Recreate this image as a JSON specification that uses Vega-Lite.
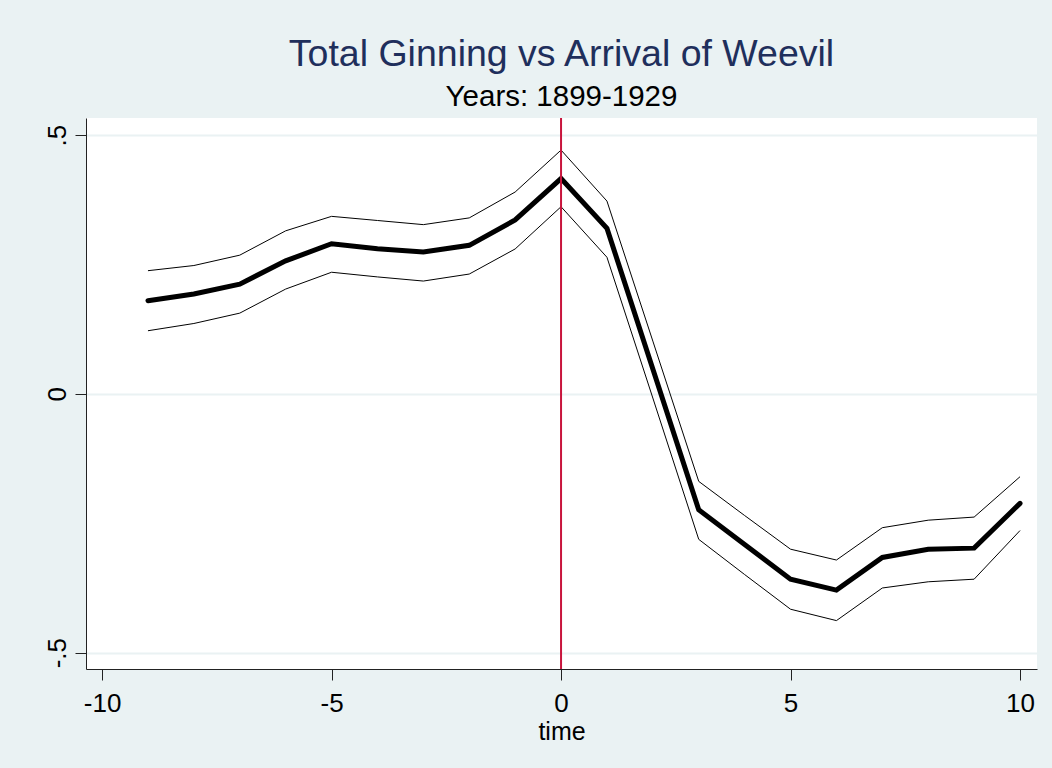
{
  "$schema": "https://vega.github.io/schema/vega-lite/v6.json",
  "autosize": {"type": "none"},
  "width": 951,
  "height": 551,
  "padding": {"left": 86, "top": 118, "right": 15, "bottom": 99},
  "background": "#EAF2F3",
  "config": {
    "view": {"stroke": null, "fill": "white"},
    "font": "Liberation Sans"
  },
  "title": {
    "text": "Total Ginning vs Arrival of Weevil",
    "subtitle": "Years: 1899-1929",
    "fontSize": 37.5,
    "subtitleFontSize": 29.5,
    "font": "Liberation Sans",
    "subtitleFont": "Liberation Sans",
    "fontWeight": "normal",
    "color": "#1F2F5C",
    "subtitleColor": "#000000",
    "anchor": "middle",
    "offset": 6,
    "subtitlePadding": 9
  },
  "data": {
    "values": [
      {"time": -9, "est": 0.180, "hi": 0.238, "lo": 0.122},
      {"time": -8, "est": 0.193, "hi": 0.248, "lo": 0.136},
      {"time": -7, "est": 0.212, "hi": 0.268, "lo": 0.156},
      {"time": -6, "est": 0.257, "hi": 0.315, "lo": 0.2025},
      {"time": -5, "est": 0.290, "hi": 0.343, "lo": 0.235},
      {"time": -4, "est": 0.2805, "hi": 0.335, "lo": 0.226},
      {"time": -3, "est": 0.274, "hi": 0.327, "lo": 0.218},
      {"time": -2, "est": 0.287, "hi": 0.340, "lo": 0.2315},
      {"time": -1, "est": 0.336, "hi": 0.390, "lo": 0.280},
      {"time": 0, "est": 0.416, "hi": 0.471, "lo": 0.3616},
      {"time": 1, "est": 0.320, "hi": 0.3725, "lo": 0.264},
      {"time": 2, "est": 0.048, "hi": 0.102, "lo": -0.008},
      {"time": 3, "est": -0.224, "hi": -0.169, "lo": -0.281},
      {"time": 4, "est": -0.291, "hi": -0.235, "lo": -0.349},
      {"time": 5, "est": -0.358, "hi": -0.300, "lo": -0.416},
      {"time": 6, "est": -0.379, "hi": -0.321, "lo": -0.438},
      {"time": 7, "est": -0.316, "hi": -0.2585, "lo": -0.375},
      {"time": 8, "est": -0.300, "hi": -0.244, "lo": -0.363},
      {"time": 9, "est": -0.298, "hi": -0.238, "lo": -0.358},
      {"time": 10, "est": -0.2115, "hi": -0.160, "lo": -0.264}
    ]
  },
  "encoding": {
    "x": {
      "field": "time",
      "type": "quantitative",
      "scale": {"domain": [-10.35, 10.37], "nice": false, "zero": false},
      "axis": {
        "title": "time",
        "values": [-10, -5, 0, 5, 10],
        "labelExpr": "'' + datum.value",
        "grid": false,
        "domainColor": "#222222",
        "tickColor": "#222222",
        "tickSize": 11,
        "labelFontSize": 26,
        "labelColor": "#000000",
        "labelPadding": 10,
        "titleFontSize": 25,
        "titleFontWeight": "normal",
        "titleColor": "#000000",
        "titlePadding": 3,
        "labelFlush": false
      }
    },
    "y": {
      "field": "est",
      "type": "quantitative",
      "scale": {"domain": [-0.5315, 0.533], "nice": false, "zero": false},
      "axis": {
        "title": null,
        "values": [-0.5, 0, 0.5],
        "labelExpr": "datum.value > 0 ? '.5' : (datum.value < 0 ? '-.5' : '0')",
        "grid": true,
        "gridColor": "#EAF2F3",
        "gridWidth": 2,
        "domainColor": "#222222",
        "tickColor": "#222222",
        "tickSize": 11,
        "labelFontSize": 26,
        "labelColor": "#000000",
        "labelAngle": 270,
        "labelAlign": "center",
        "labelBaseline": "alphabetic",
        "labelPadding": 10,
        "labelFlush": false
      }
    }
  },
  "layer": [
    {
      "mark": {"type": "line", "color": "#000000", "strokeWidth": 1},
      "encoding": {"y": {"field": "hi", "type": "quantitative"}}
    },
    {
      "mark": {"type": "line", "color": "#000000", "strokeWidth": 1},
      "encoding": {"y": {"field": "lo", "type": "quantitative"}}
    },
    {
      "mark": {"type": "line", "color": "#000000", "strokeWidth": 5, "strokeCap": "round", "strokeJoin": "miter"},
      "encoding": {"y": {"field": "est", "type": "quantitative"}}
    },
    {
      "data": {"values": [{"t0": 0}]},
      "mark": {"type": "rule", "color": "#C8143C", "strokeWidth": 2},
      "encoding": {
        "x": {"field": "t0", "type": "quantitative"},
        "y": null
      }
    }
  ]
}
